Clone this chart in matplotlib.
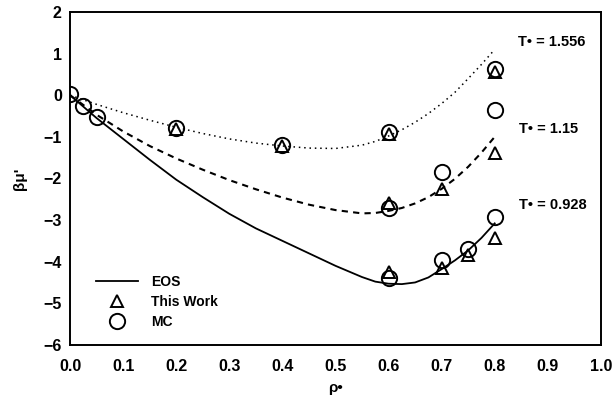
import numpy as np
import matplotlib
matplotlib.use('Agg')
import matplotlib.pyplot as plt
from matplotlib.lines import Line2D

plt.rcParams['font.family'] = ['Liberation Sans', 'DejaVu Sans']
plt.rcParams['font.weight'] = 'bold'

# EOS curves
rho_curve = [0.0, 0.05, 0.1, 0.15, 0.2, 0.25, 0.3, 0.35, 0.4, 0.45, 0.5, 0.55, 0.575, 0.6, 0.625, 0.65, 0.675, 0.7, 0.725, 0.75, 0.775, 0.8]
eos_1556 = [0.0, -0.22, -0.42, -0.6, -0.77, -0.92, -1.05, -1.15, -1.22, -1.27, -1.28, -1.2, -1.11, -0.98, -0.83, -0.65, -0.44, -0.2, 0.07, 0.4, 0.74, 1.1]
eos_115 = [0.0, -0.47, -0.87, -1.22, -1.52, -1.79, -2.04, -2.26, -2.46, -2.63, -2.76, -2.84, -2.83, -2.78, -2.71, -2.6, -2.45, -2.25, -2.01, -1.72, -1.38, -1.0]
eos_0928 = [0.0, -0.55, -1.05, -1.55, -2.03, -2.45, -2.85, -3.2, -3.5, -3.8, -4.1, -4.37, -4.48, -4.53, -4.54, -4.5, -4.38, -4.18, -3.97, -3.73, -3.43, -3.08]

# low density MC points
rho_low = [0.0, 0.025, 0.05]
mc_low = [0.03, -0.25, -0.53]

# T* = 1.556
rho_a = [0.2, 0.4, 0.6, 0.8]
mc_a = [-0.78, -1.2, -0.88, 0.62]
tw_a = [-0.8, -1.22, -0.92, 0.55]

# T* = 1.15
rho_b = [0.6, 0.7, 0.8]
mc_b = [-2.72, -1.85, -0.35]
tw_b = [-2.6, -2.25, -1.4]

# T* = 0.928
rho_c = [0.6, 0.7, 0.75, 0.8]
mc_c = [-4.4, -3.95, -3.7, -2.92]
tw_c = [-4.25, -4.15, -3.85, -3.42]

fig = plt.figure(figsize=(6.15, 4.01), dpi=100)
ax = fig.add_axes([0.114, 0.140, 0.863, 0.830])

ax.plot(rho_curve, eos_1556, color='black', lw=1.1, ls=(0, (1, 2.5)))
ax.plot(rho_curve, eos_115, color='black', lw=1.5, ls=(0, (3, 2.5)))
ax.plot(rho_curve, eos_0928, color='black', lw=1.3, ls='-')

circ = dict(marker='o', ms=11, mfc='none', mec='black', mew=1.4, ls='none')
tri = dict(marker='^', ms=8, mfc='none', mec='black', mew=1.4, ls='none')

ax.plot(rho_low, mc_low, **circ)
for r, mc, tw in [(rho_a, mc_a, tw_a), (rho_b, mc_b, tw_b), (rho_c, mc_c, tw_c)]:
    ax.plot(r, mc, **circ)
    ax.plot(r, tw, **tri)

ax.text(0.843, 1.27, 'T• = 1.556', fontsize=10.5, fontweight='bold', va='center')
ax.text(0.845, -0.82, 'T• = 1.15', fontsize=10.5, fontweight='bold', va='center')
ax.text(0.845, -2.64, 'T• = 0.928', fontsize=10.5, fontweight='bold', va='center')

handles = [Line2D([], [], color='black', lw=1.3),
           Line2D([], [], **tri),
           Line2D([], [], **circ)]
ax.legend(handles, ['EOS', 'This Work', 'MC'], loc='lower left',
          bbox_to_anchor=(0.025, 0.01), frameon=False, handlelength=3.0,
          labelspacing=0.45, handletextpad=1.0, prop={'weight': 'bold', 'size': 10})

ax.set_xlim(0, 1.0)
ax.set_ylim(-6, 2)
ax.set_xticks(np.arange(0, 1.01, 0.1))
ax.set_xticklabels(['%.1f' % v for v in np.arange(0, 1.01, 0.1)])
ax.set_yticks(range(-6, 3))
ax.tick_params(length=0, labelsize=11.5)
ax.tick_params(axis='x', pad=10)
ax.tick_params(axis='y', pad=6)
for lab in ax.get_xticklabels() + ax.get_yticklabels():
    lab.set_fontweight('bold')
for s in ax.spines.values():
    s.set_linewidth(1.4)

ax.set_xlabel('ρ•', fontsize=11, fontweight='bold', labelpad=5)
ax.set_ylabel("βμ'", fontsize=11, fontweight='bold', labelpad=12)

fig.savefig('out.png', dpi=100)
